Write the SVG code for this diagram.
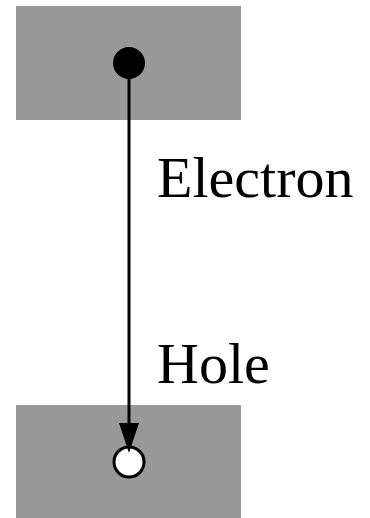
<svg xmlns="http://www.w3.org/2000/svg" width="370" height="518" viewBox="0 0 370 518">
<defs>
<style>
.band{fill:#999999;stroke:none}
.lbl{font-family:"Liberation Serif","Times New Roman",serif;font-size:58px;fill:#000}
.conn{stroke:#000;stroke-width:3;fill:none}
.head{fill:#000;stroke:none}
</style>
</defs>
<rect width="370" height="518" fill="#fff"/>
<g id="conduction-band"><rect class="band" x="16" y="6" width="225" height="114"/></g>
<g id="valence-band"><rect class="band" x="16" y="405" width="225" height="113"/></g>
<g id="electron"><circle cx="129" cy="63" r="16" fill="#000"/></g>
<g id="hole"><circle cx="129" cy="462" r="15" fill="#fff" stroke="#000" stroke-width="3"/></g>
<g id="connectors">
<line class="conn" x1="129" y1="63" x2="129" y2="424"/>
<path class="head" d="M119,423 L139,423 L129,453 Z"/>
</g>
<g id="label-electron"><text class="lbl" x="157" y="197">Electron</text></g>
<g id="label-hole"><text class="lbl" x="157" y="383">Hole</text></g>
</svg>
